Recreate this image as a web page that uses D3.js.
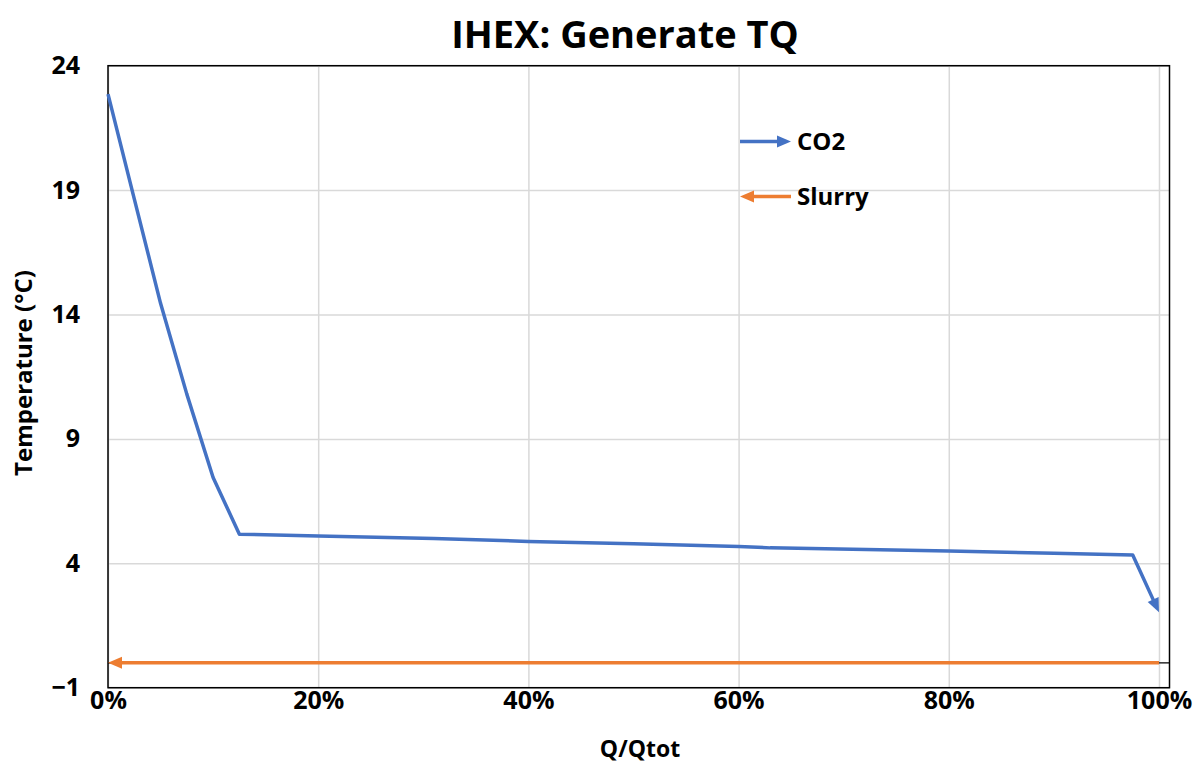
<!DOCTYPE html>
<html>
<head>
<meta charset="utf-8">
<script src="https://cdn.jsdelivr.net/npm/d3@7"></script>
<style>
  body { margin: 0; background: #fff; }
  text { font-family: "Open Sans", sans-serif; font-weight: bold; fill: #000; }
</style>
</head>
<body>
<div id="chart"></div>
<script>
// data
const co2Q = [0, 0.025, 0.05, 0.075, 0.1, 0.125, 0.2, 0.31, 0.4, 0.5, 0.6, 0.63, 0.8, 0.9, 0.975, 1.0];
const co2T = [22.86, 18.65, 14.45, 10.8, 7.45, 5.17, 5.10, 5.00, 4.88, 4.79, 4.68, 4.62, 4.49, 4.40, 4.33, 2.03];
const slurryQ = [1.0, 0];
const slurryT = [0, 0];
const yTicks = [-1, 4, 9, 14, 19, 24];
const xTicks = [0, 0.2, 0.4, 0.6, 0.8, 1.0];
const seriesNames = ["CO2", "Slurry"];
const colors = ["#4472C4", "#ED7D31"];

const W = 1201, H = 768;
const svg = d3.select("#chart").append("svg")
  .attr("width", W)
  .attr("height", H);

const x = d3.scaleLinear().domain([0, 1.01]).range([108, 1169.5]);
const y = d3.scaleLinear().domain([-1, 24]).range([687.7, 65.7]);

// gridlines
svg.append("g")
  .attr("transform", `translate(0,${y(-1)})`)
  .call(d3.axisBottom(x).tickValues(xTicks).tickSize(-(y(-1) - y(24))).tickFormat(""))
  .call(g => g.select(".domain").remove())
  .call(g => g.selectAll("line").attr("stroke", "#d9d9d9").attr("stroke-width", 1.5));
svg.append("g")
  .attr("transform", `translate(${x(0)},0)`)
  .call(d3.axisLeft(y).tickValues(yTicks).tickSize(-(x(1.01) - x(0))).tickFormat(""))
  .call(g => g.select(".domain").remove())
  .call(g => g.selectAll("line").attr("stroke", "#d9d9d9").attr("stroke-width", 1.5));

// horizontal axis line crosses at 0
svg.append("line")
  .attr("x1", x(0)).attr("x2", x(1.01))
  .attr("y1", y(0)).attr("y2", y(0))
  .attr("stroke", "#000").attr("stroke-width", 1.2);

// plot border
svg.append("rect")
  .attr("x", x(0)).attr("y", y(24))
  .attr("width", x(1.01) - x(0)).attr("height", y(-1) - y(24))
  .attr("fill", "none").attr("stroke", "#000").attr("stroke-width", 1.5);

// tick labels
svg.append("g")
  .attr("transform", `translate(${x(0)},0)`)
  .call(d3.axisLeft(y).tickValues(yTicks).tickSize(0).tickPadding(28).tickFormat(d3.format("d")))
  .call(g => g.select(".domain").remove())
  .call(g => g.selectAll("text").style("font-size", "25px").attr("font-family", null));
svg.append("g")
  .attr("transform", `translate(0,${y(-1)})`)
  .call(d3.axisBottom(x).tickValues(xTicks).tickSize(0).tickPadding(4).tickFormat(d3.format(".0%")))
  .call(g => g.select(".domain").remove())
  .call(g => g.selectAll("text").style("font-size", "25px").attr("font-family", null));

// line with arrowhead at its last point
function arrowLine(pts, color, width, headLen, headW) {
  const p = pts.map(d => [x(d[0]), y(d[1])]);
  const n = p.length;
  const [x1, y1] = p[n - 2], [x2, y2] = p[n - 1];
  const len = Math.hypot(x2 - x1, y2 - y1);
  const ux = (x2 - x1) / len, uy = (y2 - y1) / len;
  const trimmed = p.slice(0, n - 1).concat([[x2 - ux * headLen * 0.8, y2 - uy * headLen * 0.8]]);
  svg.append("path")
    .attr("d", d3.line()(trimmed))
    .attr("fill", "none")
    .attr("stroke", color)
    .attr("stroke-width", width)
    .attr("stroke-linejoin", "round");
  const bx = x2 - ux * headLen, by = y2 - uy * headLen;
  const px = -uy, py = ux;
  svg.append("path")
    .attr("d", d3.line()([[x2, y2], [bx + px * headW / 2, by + py * headW / 2], [bx - px * headW / 2, by - py * headW / 2]]) + "Z")
    .attr("fill", color);
}

arrowLine(slurryQ.map((q, i) => [q, slurryT[i]]), colors[1], 3.5, 14, 12);
arrowLine(co2Q.map((q, i) => [q, co2T[i]]), colors[0], 3.5, 14, 12);

// legend
const legend = svg.append("g");
seriesNames.forEach((name, i) => {
  const ly = 141.5 + i * 55;
  const lx0 = 740, lx1 = 791;
  const color = colors[i];
  const from = i === 0 ? lx0 : lx1, to = i === 0 ? lx1 : lx0;
  const dir = Math.sign(to - from);
  legend.append("line")
    .attr("x1", from).attr("x2", to - dir * 10)
    .attr("y1", ly).attr("y2", ly)
    .attr("stroke", color).attr("stroke-width", 3.5);
  legend.append("path")
    .attr("d", `M${to},${ly} L${to - dir * 14},${ly - 6} L${to - dir * 14},${ly + 6} Z`)
    .attr("fill", color);
  legend.append("text")
    .attr("x", 797).attr("y", ly)
    .attr("dy", "0.35em")
    .style("font-size", "24px")
    .text(name);
});

// titles
svg.append("text")
  .attr("x", 625).attr("y", 48)
  .attr("text-anchor", "middle")
  .style("font-size", "38px")
  .text("IHEX: Generate TQ");
svg.append("text")
  .attr("x", 640).attr("y", 757)
  .attr("text-anchor", "middle")
  .style("font-size", "23px")
  .text("Q/Qtot");
svg.append("text")
  .attr("transform", "translate(32,373) rotate(-90)")
  .attr("text-anchor", "middle")
  .style("font-size", "24px")
  .text("Temperature (°C)");
</script>
</body>
</html>
